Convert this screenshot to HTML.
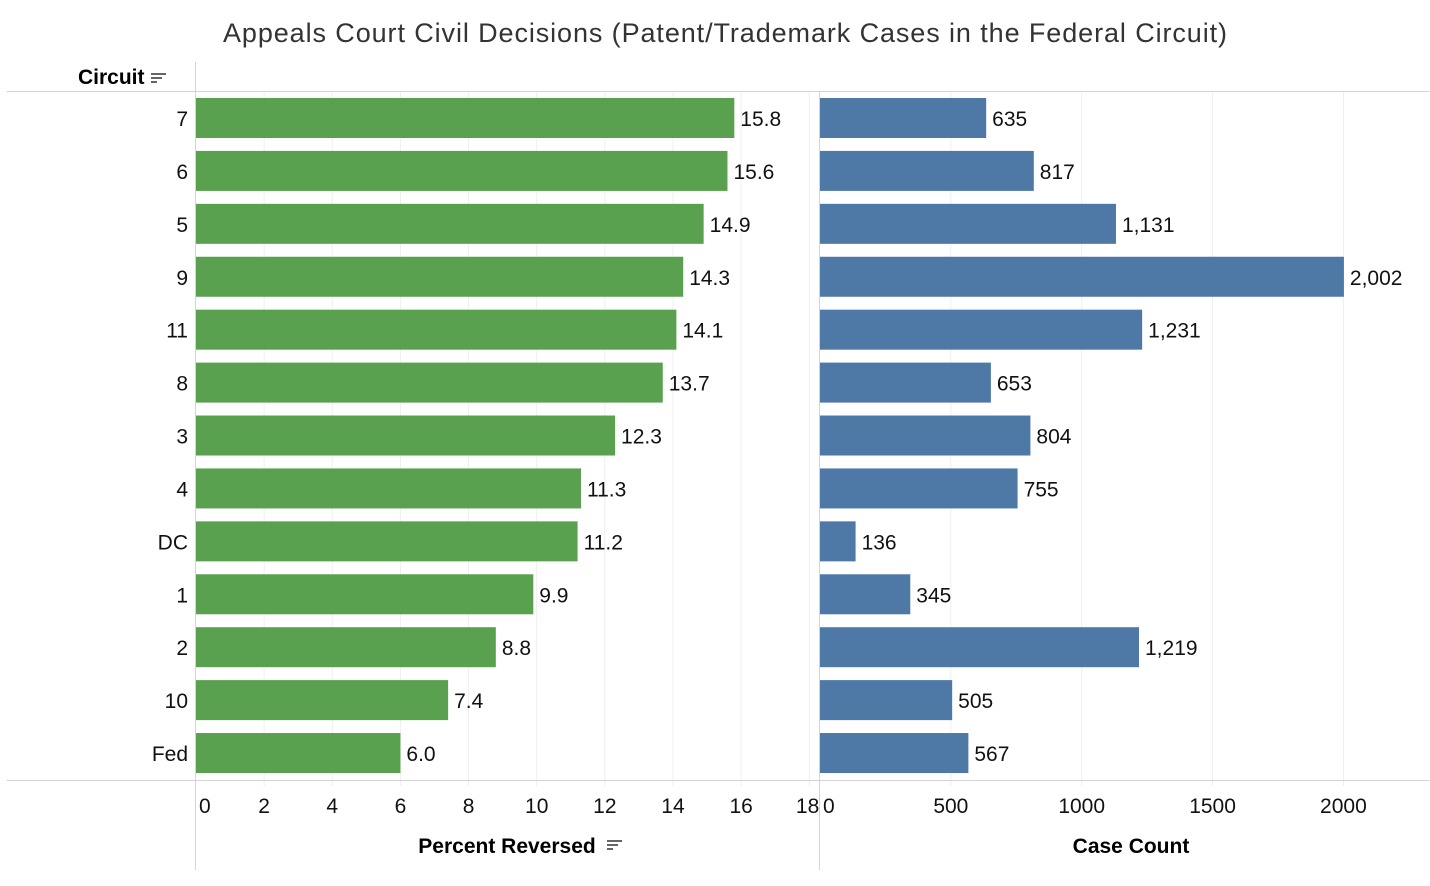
<!DOCTYPE html>
<html><head><meta charset="utf-8"><style>
body{margin:0;background:#fff;width:1430px;height:881px;overflow:hidden;font-family:"Liberation Sans",sans-serif;}
svg text{font-family:"Liberation Sans",sans-serif;}
</style></head><body>
<svg id="chart" width="1430" height="881">
<text x="223" y="42" textLength="1004" lengthAdjust="spacing" font-size="27" fill="#333">Appeals Court Civil Decisions (Patent/Trademark Cases  in the Federal Circuit)</text>
<g>
<text x="78" y="84" font-size="21" font-weight="bold" fill="#000">Circuit</text>
<g fill="#666"><rect x="151" y="73" width="15" height="2"/><rect x="151" y="77" width="11" height="2"/><rect x="151" y="81" width="6" height="2"/></g>
</g>
<g id="grid"></g>
<line x1="7" y1="91.5" x2="1430" y2="91.5" stroke="#d4d4d4"/>
<line x1="7" y1="780.5" x2="1430" y2="780.5" stroke="#d4d4d4"/>
<line x1="195.5" y1="62" x2="195.5" y2="870" stroke="#d4d4d4"/>
<line x1="819.5" y1="91" x2="819.5" y2="870" stroke="#d4d4d4"/>
<g id="bars"></g>
<g>
<text x="507" y="853" text-anchor="middle" font-size="21" font-weight="bold" fill="#000">Percent Reversed</text>
<g fill="#666"><rect x="607" y="840" width="15" height="2"/><rect x="607" y="844" width="11" height="2"/><rect x="607" y="848" width="6" height="2"/></g>
</g>
<text x="1131" y="853" text-anchor="middle" font-size="21" font-weight="bold" fill="#000">Case Count</text>
</svg>
<script>
const circuits=["7","6","5","9","11","8","3","4","DC","1","2","10","Fed"];
const percentReversed=[15.8,15.6,14.9,14.3,14.1,13.7,12.3,11.3,11.2,9.9,8.8,7.4,6.0];
const caseCounts=[635,817,1131,2002,1231,653,804,755,136,345,1219,505,567];
const percentTicks=[0,2,4,6,8,10,12,14,16,18];
const countTicks=[0,500,1000,1500,2000];
const NS="http://www.w3.org/2000/svg";
const px=v=>196+v*34.07;
const cx=v=>820+v*0.2617;
const rowY=i=>118+i*52.92;
function mk(t,a,p){const e=document.createElementNS(NS,t);for(const k in a)e.setAttribute(k,a[k]);if(p)p.appendChild(e);return e;}
const grid=document.getElementById('grid'),bars=document.getElementById('bars');
percentTicks.forEach((t,i)=>{
  const x=px(t);
  if(t>0){const l=mk('line',{x1:x,y1:91,x2:x,y2:786,stroke:'#efefef'},grid);
  
  }
  const anchor=i==0?'start':(i==percentTicks.length-1?'end':'middle');
  const tx=mk('text',{x:i==0?x+3:(i==percentTicks.length-1?x+10:x),y:813,'text-anchor':anchor,'font-size':21,fill:'#111'},grid);
  tx.textContent=t;
  
  
});
countTicks.forEach((t,i)=>{
  const x=cx(t);
  if(t>0){const l=mk('line',{x1:x,y1:91,x2:x,y2:786,stroke:'#efefef'},grid);
  
  }
  const tx=mk('text',{x:i==0?x+3:x,y:813,'text-anchor':i==0?'start':'middle','font-size':21,fill:'#111'},grid);
  tx.textContent=t;
  
  
});
circuits.forEach((c,i)=>{
  const y=rowY(i);
  const lab=mk('text',{x:188,y:y+8,'text-anchor':'end','font-size':21,fill:'#111'},bars);
  lab.textContent=c;
  
  
  const b=mk('rect',{x:196,y:y-20,width:px(percentReversed[i])-196,height:40,fill:'#59a14f'},bars);
  
  
  const v=mk('text',{x:px(percentReversed[i])+6,y:y+8,'font-size':21,fill:'#111'},bars);
  v.textContent=percentReversed[i].toFixed(1);
  
  
  const b2=mk('rect',{x:820,y:y-20,width:cx(caseCounts[i])-820,height:40,fill:'#4e79a7'},bars);
  
  
  const v2=mk('text',{x:cx(caseCounts[i])+6,y:y+8,'font-size':21,fill:'#111'},bars);
  v2.textContent=caseCounts[i].toLocaleString('en-US');
  
  
});
</script>
</body></html>
